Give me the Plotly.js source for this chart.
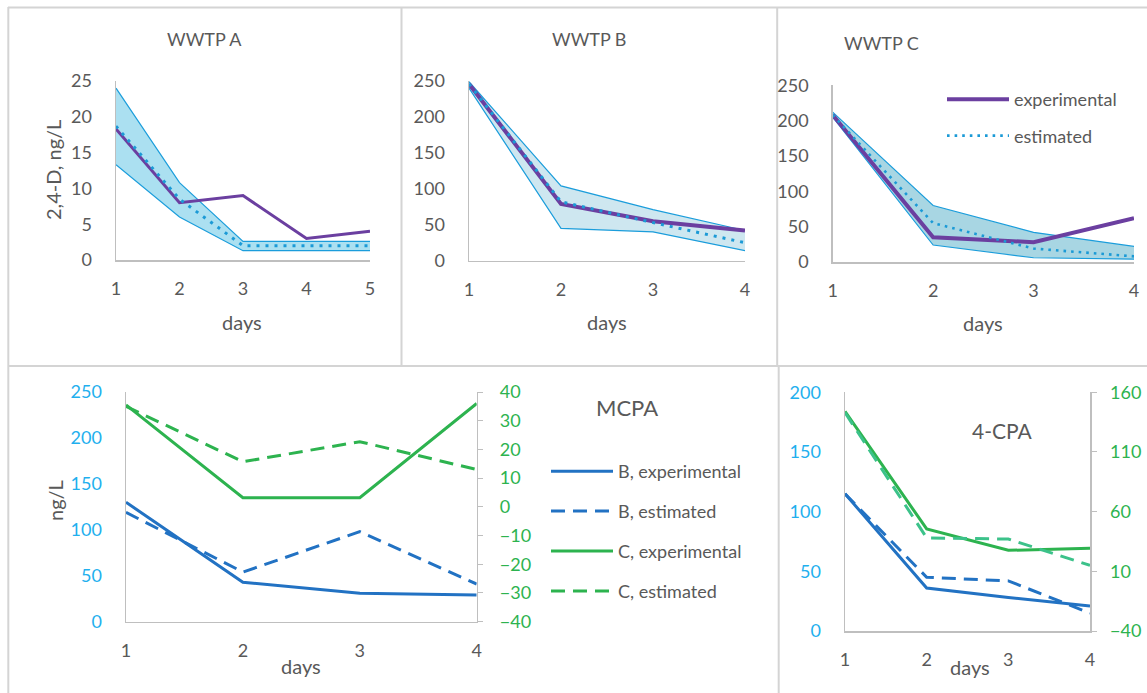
<!DOCTYPE html>
<html>
<head>
<meta charset="utf-8">
<script src="https://cdn.plot.ly/plotly-3.0.1.min.js"></script>
<style>html,body{margin:0;padding:0;background:#fff;}#chart{width:1147px;height:693px;}</style>
</head>
<body>
<div id="chart"></div>
<script>
// ---- data ----
const days5 = [1, 2, 3, 4, 5];
const days4 = [1, 2, 3, 4];

const A_experimental = [18.3, 8.0, 9.0, 3.0, 4.0];
const A_estimated    = [18.7, 8.5, 2.0, 2.0, 2.0];
const A_upper        = [24.0, 10.8, 2.6, 2.6, 2.6];
const A_lower        = [13.3, 6.0, 1.3, 1.3, 1.3];

const B_experimental = [246, 79, 55, 42];
const B_estimated    = [246, 82, 53, 25];
const B_upper        = [249, 104, 71, 42];
const B_lower        = [240, 45, 40, 14];

const C_experimental = [208, 35, 28, 62];
const C_estimated    = [208, 55, 19, 8];
const C_upper        = [212, 80, 42, 22];
const C_lower        = [205, 24, 6, 4];

const MCPA_B_experimental = [130, 43, 31, 29];
const MCPA_B_estimated    = [119, 54, 98, 41];
const MCPA_C_experimental = [35.5, 3.2, 3.2, 36];
const MCPA_C_estimated    = [35, 15.7, 22.7, 13];

const CPA_B_experimental = [115, 36, 28, 21];
const CPA_B_estimated    = [115, 45, 42, 15];
const CPA_C_experimental = [144, 45.5, 27.6, 29.3];
const CPA_C_estimated    = [143, 38, 37, 15];

const titles = ["WWTP A", "WWTP B", "WWTP C", "MCPA", "4-CPA"];
const xTitle = "days";
const yTitleTop = "2,4-D, ng/L";
const yTitleBottom = "ng/L";
const legendTop = ["experimental", "estimated"];
const legendMCPA = ["B, experimental", "B, estimated", "C, experimental", "C, estimated"];

// ---- styling ----
const W = 1147, H = 693;
const px = v => v / W;
const py = v => 1 - v / H;
const FONT = "Lato, 'Open Sans', sans-serif";
const GREY_TXT = "#595959";
const AX = "#bfbfbf";
const PURPLE = "#6b3fa0";
const EDGE = "#1b9ddb";
const DOTC = "#1b9ad6";
const BLUE = "#2272c3";
const LBLUE = "#1fb0ee";
const GREEN = "#2db34f";
const GREEN2 = "#3cc28a";

function band(x, upper, lower, xa, ya, fillc) {
  return [
    {x: x, y: upper, xaxis: xa, yaxis: ya, mode: "lines", line: {color: EDGE, width: 1.2}, showlegend: false, hoverinfo: "skip"},
    {x: x, y: lower, xaxis: xa, yaxis: ya, mode: "lines", line: {color: EDGE, width: 1.2}, fill: "tonexty", fillcolor: fillc, showlegend: false, hoverinfo: "skip"}
  ];
}

const traces = [];
traces.push(...band(days5, A_upper, A_lower, "x", "y", "rgba(120,205,232,0.62)"));
traces.push({x: days5, y: A_experimental, xaxis: "x", yaxis: "y", mode: "lines", line: {color: PURPLE, width: 3}, showlegend: false});
traces.push({x: days5, y: A_estimated, xaxis: "x", yaxis: "y", mode: "lines", line: {color: DOTC, width: 3, dash: "3px,6px"}, showlegend: false});

traces.push(...band(days4, B_upper, B_lower, "x2", "y2", "rgba(165,212,228,0.55)"));
traces.push({x: days4, y: B_experimental, xaxis: "x2", yaxis: "y2", mode: "lines", line: {color: PURPLE, width: 4}, showlegend: false});
traces.push({x: days4, y: B_estimated, xaxis: "x2", yaxis: "y2", mode: "lines", line: {color: DOTC, width: 3, dash: "3px,6px"}, showlegend: false});

traces.push(...band(days4, C_upper, C_lower, "x3", "y3", "rgba(110,186,208,0.6)"));
traces.push({x: days4, y: C_experimental, xaxis: "x3", yaxis: "y3", mode: "lines", name: legendTop[0], line: {color: PURPLE, width: 4}, legend: "legend", legendgroup: "e1"});
traces.push({x: days4, y: C_estimated, xaxis: "x3", yaxis: "y3", mode: "lines", name: legendTop[1], line: {color: DOTC, width: 2.6, dash: "2.6px,5px"}, legend: "legend", legendgroup: "e2"});

traces.push({x: days4, y: MCPA_B_experimental, xaxis: "x4", yaxis: "y4", mode: "lines", name: legendMCPA[0], line: {color: BLUE, width: 3}, legend: "legend2", legendgroup: "m1"});
traces.push({x: days4, y: MCPA_B_estimated, xaxis: "x4", yaxis: "y4", mode: "lines", name: legendMCPA[1], line: {color: BLUE, width: 3, dash: "14px,8px"}, legend: "legend2", legendgroup: "m2"});
traces.push({x: days4, y: MCPA_C_experimental, xaxis: "x4", yaxis: "y5", mode: "lines", name: legendMCPA[2], line: {color: GREEN, width: 3}, legend: "legend2", legendgroup: "m3"});
traces.push({x: days4, y: MCPA_C_estimated, xaxis: "x4", yaxis: "y5", mode: "lines", name: legendMCPA[3], line: {color: GREEN, width: 3, dash: "14px,8px"}, legend: "legend2", legendgroup: "m4"});

traces.push({x: days4, y: CPA_B_experimental, xaxis: "x5", yaxis: "y6", mode: "lines", line: {color: BLUE, width: 3}, showlegend: false});
traces.push({x: days4, y: CPA_B_estimated, xaxis: "x5", yaxis: "y6", mode: "lines", line: {color: BLUE, width: 3, dash: "14px,8px"}, showlegend: false});
traces.push({x: days4, y: CPA_C_experimental, xaxis: "x5", yaxis: "y7", mode: "lines", line: {color: GREEN, width: 3}, showlegend: false});
traces.push({x: days4, y: CPA_C_estimated, xaxis: "x5", yaxis: "y7", mode: "lines", line: {color: GREEN2, width: 3, dash: "14px,8px"}, showlegend: false});

const tickFont = c => ({family: FONT, size: 18, color: c});

function xaxis(l, r, anchor, range, vals, so) {
  return {domain: [px(l), px(r)], anchor: anchor, range: range, tickvals: vals, showgrid: false, zeroline: false,
    showline: true, linecolor: AX, linewidth: 1.5, ticks: "", tickfont: tickFont(GREY_TXT), ticklabelstandoff: so, fixedrange: true};
}
function yaxis(t, b, anchor, range, dtick, color, extra) {
  return Object.assign({domain: [py(b), py(t)], anchor: anchor, range: range, dtick: dtick, tick0: range[0], showgrid: false, zeroline: false,
    showline: true, linecolor: AX, linewidth: 1.5, ticks: "", tickfont: tickFont(color), ticklabelstandoff: 19, fixedrange: true}, extra || {});
}

const layout = {
  width: W, height: H,
  margin: {l: 0, r: 0, t: 0, b: 0},
  paper_bgcolor: "#ffffff", plot_bgcolor: "rgba(0,0,0,0)",
  font: {family: FONT, color: GREY_TXT},
  xaxis:  xaxis(116, 370, "y", [1, 5], days5, 12),
  yaxis:  yaxis(81, 260, "x", [0, 25], 5, GREY_TXT),
  xaxis2: xaxis(469, 745, "y2", [1, 4], days4, 12),
  yaxis2: yaxis(81, 260.7, "x2", [0, 250], 50, GREY_TXT),
  xaxis3: xaxis(832.7, 1134, "y3", [1, 4], days4, 12),
  yaxis3: yaxis(85.3, 262, "x3", [0, 250], 50, GREY_TXT),
  xaxis4: xaxis(126, 476.7, "y4", [1, 4], days4, 12),
  yaxis4: yaxis(392, 621.7, "x4", [0, 250], 50, LBLUE),
  yaxis5: yaxis(392, 621.7, "x4", [-40, 40], 10, GREEN, {overlaying: "y4", side: "right", ticks: "outside", ticklen: 5, tickcolor: AX, ticklabelstandoff: 13}),
  xaxis5: xaxis(845, 1090, "y6", [1, 4], days4, 12),
  yaxis6: yaxis(392.3, 631, "x5", [0, 200], 50, LBLUE),
  yaxis7: yaxis(392.3, 631, "x5", [-40, 160], 50, GREEN, {overlaying: "y6", side: "right", ticks: "outside", ticklen: 5, tickcolor: AX, ticklabelstandoff: 10}),
  legend: {x: px(942), y: py(81), xanchor: "left", yanchor: "top", bgcolor: "rgba(0,0,0,0)", font: {family: FONT, size: 18, color: GREY_TXT},
    itemwidth: 62, tracegroupgap: 10, traceorder: "grouped"},
  legend2: {x: px(546), y: py(453), xanchor: "left", yanchor: "top", bgcolor: "rgba(0,0,0,0)", font: {family: FONT, size: 18, color: GREY_TXT},
    itemwidth: 62, tracegroupgap: 13.5, traceorder: "grouped"},
  annotations: [],
  shapes: []
};

function ann(text, x, y, size, rot) {
  layout.annotations.push({text: text, x: px(x), y: py(y), xref: "paper", yref: "paper", xanchor: "center", yanchor: "middle",
    showarrow: false, textangle: rot || 0, font: {family: FONT, size: size, color: GREY_TXT}});
}
ann(titles[0], 205, 39, 18);
ann(titles[1], 589, 39, 18);
ann(titles[2], 881, 43, 18);
ann(titles[3], 627, 407, 22);
ann(titles[4], 1002, 430, 21);
ann(xTitle, 242, 322, 20);
ann(xTitle, 607, 322, 20);
ann(xTitle, 983, 323, 20);
ann(xTitle, 301, 666, 20);
ann(xTitle, 970, 667, 20);
ann(yTitleTop, 53, 170, 20, -90);
ann(yTitleBottom, 55, 501, 20, -90);

function seg(x0, y0, x1, y1) {
  layout.shapes.push({type: "line", xref: "paper", yref: "paper", x0: px(x0), y0: py(y0), x1: px(x1), y1: py(y1),
    line: {color: "#d4d4d4", width: 2}, layer: "below"});
}
seg(8, 7.5, 1147, 7.5);
seg(8.3, 7, 8.3, 693);
seg(401.5, 7, 401.5, 366);
seg(777.2, 7, 777.2, 366);
seg(8, 366, 1147, 366);
seg(778.7, 366, 778.7, 693);

Plotly.newPlot("chart", traces, layout, {staticPlot: true, displayModeBar: false});
</script>
</body>
</html>
